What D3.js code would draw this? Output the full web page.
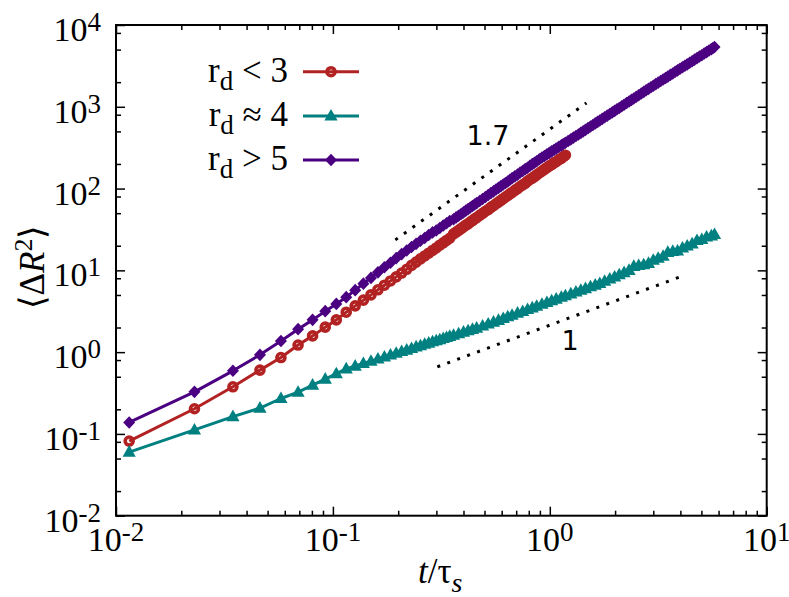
<!DOCTYPE html>
<html>
<head>
<meta charset="utf-8">
<script src="https://cdn.jsdelivr.net/npm/d3@7"></script>
<style>
  body { margin: 0; background: #fff; }
  text { font-family: "Liberation Serif", "Times New Roman", serif; fill: #000; }
</style>
</head>
<body>
<svg id="chart" width="789" height="597"></svg>
<script>
// t/tau_s sampling used for the r_d ~ 4 curve
const timesCoarse = [
  0.0115, 0.0230, 0.0346, 0.0461, 0.0576, 0.0691, 0.0806, 0.0922, 0.1037, 0.1152,
  0.1267, 0.1382, 0.1498, 0.1613, 0.1728, 0.1843, 0.1958, 0.2074, 0.2189, 0.2304,
  0.2419, 0.2534, 0.2650, 0.2765, 0.2880, 0.2995, 0.3110, 0.3226, 0.3341, 0.3456,
  0.36, 0.38, 0.40, 0.42, 0.44, 0.46, 0.49, 0.52, 0.55, 0.58,
  0.61, 0.64, 0.67, 0.71, 0.75, 0.79, 0.83, 0.87, 0.92, 0.97,
  1.02, 1.07, 1.13, 1.18, 1.25, 1.32, 1.39, 1.46, 1.54, 1.62,
  1.70, 1.79, 1.89, 1.99, 2.09, 2.20, 2.32, 2.44, 2.57, 2.71,
  2.85, 3.00, 3.16, 3.33, 3.50, 3.69, 3.88, 4.09, 4.30, 4.53,
  4.77, 5.02, 5.28, 5.56, 5.75
];

// denser sampling used for r_d < 3 and r_d > 5 (the points merge into a band)
const timesFine = [
  0.0115, 0.0230, 0.0346, 0.0461, 0.0576, 0.0691, 0.0806, 0.0922, 0.1037, 0.1152,
  0.1267, 0.1382, 0.1498, 0.1613, 0.1728, 0.1843, 0.1958, 0.2074, 0.2189, 0.2304,
  0.2419, 0.2534, 0.2650, 0.2765, 0.2880, 0.2995, 0.3110, 0.3226, 0.3341, 0.3456,
  0.36, 0.37, 0.38, 0.39, 0.40, 0.41, 0.42, 0.43, 0.44, 0.45,
  0.46, 0.475, 0.49, 0.505, 0.52, 0.535, 0.55, 0.565, 0.58, 0.595,
  0.61, 0.625, 0.64, 0.655, 0.67, 0.69, 0.71, 0.73, 0.75, 0.77,
  0.79, 0.81, 0.83, 0.85, 0.87, 0.895, 0.92, 0.945, 0.97, 0.995,
  1.02, 1.045, 1.07, 1.10, 1.13, 1.155, 1.18, 1.215, 1.25, 1.285,
  1.32, 1.355, 1.39, 1.425, 1.46, 1.50, 1.54, 1.58, 1.62, 1.66,
  1.70, 1.745, 1.79, 1.84, 1.89, 1.94, 1.99, 2.04, 2.09, 2.145,
  2.20, 2.26, 2.32, 2.38, 2.44, 2.505, 2.57, 2.64, 2.71, 2.78,
  2.85, 2.925, 3.00, 3.08, 3.16, 3.245, 3.33, 3.415, 3.50, 3.595,
  3.69, 3.785, 3.88, 3.985, 4.09, 4.195, 4.30, 4.415, 4.53, 4.65,
  4.77, 4.895, 5.02, 5.15, 5.28, 5.42, 5.56, 5.655, 5.75
];

// <dR^2>, r_d < 3 (stops at t ~ 1.2)
const msdBelow3 = [
  0.0818, 0.203, 0.377, 0.603, 0.859, 1.22, 1.58, 2.02, 2.48, 3.08,
  3.68, 4.32, 5.01, 5.78, 6.58, 7.42, 8.32, 9.27, 10.3, 11.5,
  12.6, 13.8, 15.0, 16.2, 17.5, 18.8, 20.3, 21.7, 23.2, 24.7,
  27.9, 29.4, 30.8, 32.4, 34.0, 35.7, 37.0, 39.0, 40.6, 42.5,
  44.2, 47.0, 49.7, 52.8, 55.4, 58.9, 61.7, 65.2, 68.2, 71.9,
  75.2, 78.9, 82.3, 86.1, 89.5, 95.1, 99.7, 106, 111, 116,
  123, 129, 134, 140, 147, 155, 163, 172, 180, 189,
  196, 206, 213, 225, 234, 245, 256
];

// <dR^2>, r_d ~ 4
const msdNear4 = [
  0.0600, 0.112, 0.163, 0.207, 0.271, 0.324, 0.395, 0.469, 0.546, 0.625,
  0.676, 0.728, 0.776, 0.826, 0.875, 0.923, 0.970, 1.02, 1.06, 1.11,
  1.16, 1.20, 1.25, 1.29, 1.34, 1.38, 1.42, 1.47, 1.51, 1.56,
  1.61, 1.68, 1.76, 1.83, 1.90, 1.97, 2.09, 2.21, 2.33, 2.45,
  2.58, 2.71, 2.83, 3.00, 3.15, 3.32, 3.48, 3.64, 3.85, 4.05,
  4.25, 4.45, 4.69, 4.89, 5.16, 5.44, 5.73, 5.99, 6.30, 6.61,
  6.92, 7.36, 7.85, 8.32, 8.83, 9.40, 10.0, 11.2, 11.5, 11.7,
  12.2, 13.3, 14.1, 14.9, 16.6, 17.1, 17.3, 18.8, 19.9, 21.1,
  23.2, 23.9, 25.6, 26.4, 27.5
];

// <dR^2>, r_d > 5
const msdAbove5 = [
  0.138, 0.327, 0.591, 0.927, 1.37, 1.91, 2.48, 3.17, 3.89, 4.70,
  5.73, 6.88, 8.09, 9.45, 10.9, 12.4, 14.1, 15.8, 17.5, 19.3,
  21.1, 23.0, 24.9, 27.0, 29.1, 30.7, 32.9, 35.3, 37.7, 40.1,
  42.2, 44.4, 46.6, 48.9, 51.2, 53.7, 56.1, 58.6, 61.1, 63.8,
  66.4, 70.5, 74.7, 79.0, 83.4, 88.0, 92.4, 97.4, 102, 107,
  112, 117, 122, 128, 134, 141, 148, 157, 164, 173,
  180, 190, 199, 207, 216, 228, 240, 250, 262, 273,
  285, 296, 308, 323, 337, 350, 363, 381, 400, 420,
  439, 459, 480, 501, 522, 548, 573, 600, 626, 653,
  680, 712, 744, 780, 816, 854, 891, 931, 968, 1016,
  1059, 1112, 1162, 1216, 1265, 1329, 1385, 1454, 1520, 1590,
  1656, 1736, 1807, 1895, 1972, 2067, 2153, 2252, 2340, 2455,
  2553, 2676, 2787, 2916, 3041, 3178, 3300, 3462, 3600, 3776,
  3930, 4115, 4275, 4480, 4653, 4880, 5075, 5240, 5383
];

// guide lines: slope 1.7 and slope 1
const guideSteep = [[0.194, 23.6], [1.476, 1114]];
const guideFlat = [[0.303, 0.662], [4.23, 8.81]];
const guideLabels = ["1.7", "1"];

const legendRelations = ["< 3", "\u2248 4", "> 5"];

const xTickValues = [0.01, 0.1, 1, 10];
const xTickExponents = ["-2", "-1", "0", "1"];
const yTickValues = [0.01, 0.1, 1, 10, 100, 1000, 10000];
const yTickExponents = ["-2", "-1", "0", "1", "2", "3", "4"];
const xMinorMultiples = [2, 3, 4, 5, 6, 7, 8, 9];
const yMinorMultiples = [2, 5, 8];

const svg = d3.select("#chart");
const plot = { left: 116, right: 766.7, top: 25, bottom: 515.7 };

const x = d3.scaleLog().domain([0.01, 10]).range([plot.left, plot.right]);
const y = d3.scaleLog().domain([0.01, 10000]).range([plot.bottom, plot.top]);

const series = [
  { times: timesFine, values: msdBelow3, color: "#b22222", marker: "circle" },
  { times: timesCoarse, values: msdNear4, color: "#008080", marker: "triangle" },
  { times: timesFine, values: msdAbove5, color: "#4b0082", marker: "diamond" }
];

function minorTicks(majors, mults) {
  const out = [];
  majors.slice(0, -1).forEach(m => mults.forEach(k => out.push(m * k)));
  return out;
}

// ---- axes (ticks on all four sides, pointing inward)
function addAxis(axisFn, scale, transform, majors, minors) {
  const gMinor = svg.append("g").attr("transform", transform)
    .call(axisFn(scale).tickValues(minors).tickSize(-5).tickSizeOuter(0).tickFormat(""));
  const gMajor = svg.append("g").attr("transform", transform)
    .call(axisFn(scale).tickValues(majors).tickSize(-9).tickSizeOuter(0).tickFormat(""));
  [gMinor, gMajor].forEach(g => {
    g.select(".domain").remove();
    g.selectAll(".tick line").attr("stroke", "#000").attr("stroke-width", 1.5);
    g.selectAll(".tick text").remove();
  });
}

const xMinor = minorTicks(xTickValues, xMinorMultiples);
const yMinor = minorTicks(yTickValues, yMinorMultiples);
addAxis(d3.axisBottom, x, `translate(0,${plot.bottom})`, xTickValues, xMinor);
addAxis(d3.axisTop, x, `translate(0,${plot.top})`, xTickValues, xMinor);
addAxis(d3.axisLeft, y, `translate(${plot.left},0)`, yTickValues, yMinor);
addAxis(d3.axisRight, y, `translate(${plot.right},0)`, yTickValues, yMinor);

svg.append("rect")
  .attr("x", plot.left).attr("y", plot.top)
  .attr("width", plot.right - plot.left).attr("height", plot.bottom - plot.top)
  .attr("fill", "none").attr("stroke", "#000").attr("stroke-width", 2);

// tick labels 10^n
const tickFont = 34, supFont = 27;
xTickValues.forEach((v, i) => {
  const t = svg.append("text")
    .attr("x", x(v)).attr("y", plot.bottom + 35)
    .attr("text-anchor", "middle").attr("font-size", tickFont);
  t.append("tspan").text("10");
  t.append("tspan").attr("dy", -10).attr("font-size", supFont).text(xTickExponents[i]);
});
yTickValues.forEach((v, i) => {
  const t = svg.append("text")
    .attr("x", plot.left - 15).attr("y", y(v) + 16)
    .attr("text-anchor", "end").attr("font-size", tickFont);
  t.append("tspan").text("10");
  t.append("tspan").attr("dy", -10).attr("font-size", supFont).text(yTickExponents[i]);
});

// axis titles
const xTitle = svg.append("text")
  .attr("x", 418).attr("y", 583).attr("font-size", 35);
xTitle.append("tspan").attr("font-style", "italic").text("t");
xTitle.append("tspan").text("/\u03c4");
xTitle.append("tspan").attr("font-style", "italic").attr("font-size", 28).attr("dy", 9).text("s");

const yTitle = svg.append("text")
  .attr("transform", "translate(44,267) rotate(-90)")
  .attr("text-anchor", "middle").attr("font-size", 35);
yTitle.append("tspan").text("\u27e8\u0394");
yTitle.append("tspan").attr("font-style", "italic").text("R");
yTitle.append("tspan").attr("font-size", 26).attr("dy", -12).text("2");
yTitle.append("tspan").attr("dy", 12).text("\u27e9");

// ---- guide lines
const guideLine = d3.line().x(d => x(d[0])).y(d => y(d[1]));
[guideSteep, guideFlat].forEach(g => {
  svg.append("path")
    .attr("d", guideLine(g))
    .attr("fill", "none").attr("stroke", "#000")
    .attr("stroke-width", 3).attr("stroke-dasharray", "3 7.6");
});
svg.append("text").attr("x", 488).attr("y", 145)
  .attr("text-anchor", "middle").attr("font-size", 27)
  .style("font-family", "'DejaVu Sans', sans-serif").text(guideLabels[0]);
svg.append("text").attr("x", 570).attr("y", 350)
  .attr("text-anchor", "middle").attr("font-size", 27)
  .style("font-family", "'DejaVu Sans', sans-serif").text(guideLabels[1]);

// ---- markers
function drawMarker(sel, kind, color) {
  if (kind === "circle") {
    sel.append("circle").attr("r", 4).attr("fill", "none")
      .attr("stroke", color).attr("stroke-width", 3.6);
  } else if (kind === "triangle") {
    sel.append("path").attr("d", "M0,-7L6.6,4.6L-6.6,4.6Z").attr("fill", color);
  } else {
    sel.append("path").attr("d", "M0,-6.3L6,0L0,6.3L-6,0Z").attr("fill", color);
  }
}

// ---- curves
const line = d3.line().x(d => x(d.t)).y(d => y(d.v));
series.forEach(s => {
  const pts = s.values.map((v, i) => ({ t: s.times[i], v: v }));
  svg.append("path")
    .attr("d", line(pts))
    .attr("fill", "none").attr("stroke", s.color)
    .attr("stroke-width", 3).attr("stroke-linejoin", "round");
  svg.append("g").selectAll("g")
    .data(pts).join("g")
    .attr("transform", d => `translate(${x(d.t)},${y(d.v)})`)
    .each(function () { drawMarker(d3.select(this), s.marker, s.color); });
});

// ---- legend
const legendRows = [71.7, 116, 160];
series.forEach((s, i) => {
  const ly = legendRows[i];
  const t = svg.append("text")
    .attr("x", 288).attr("y", ly + 10)
    .attr("text-anchor", "end").attr("font-size", 35);
  t.append("tspan").text("r");
  t.append("tspan").attr("font-size", 27).attr("dy", 8).text("d");
  t.append("tspan").attr("dy", -8).text(" " + legendRelations[i]);
  svg.append("line")
    .attr("x1", 303).attr("x2", 359).attr("y1", ly).attr("y2", ly)
    .attr("stroke", s.color).attr("stroke-width", 3);
  const m = svg.append("g").attr("transform", `translate(331,${ly})`);
  drawMarker(m, s.marker, s.color);
});
</script>
</body>
</html>
